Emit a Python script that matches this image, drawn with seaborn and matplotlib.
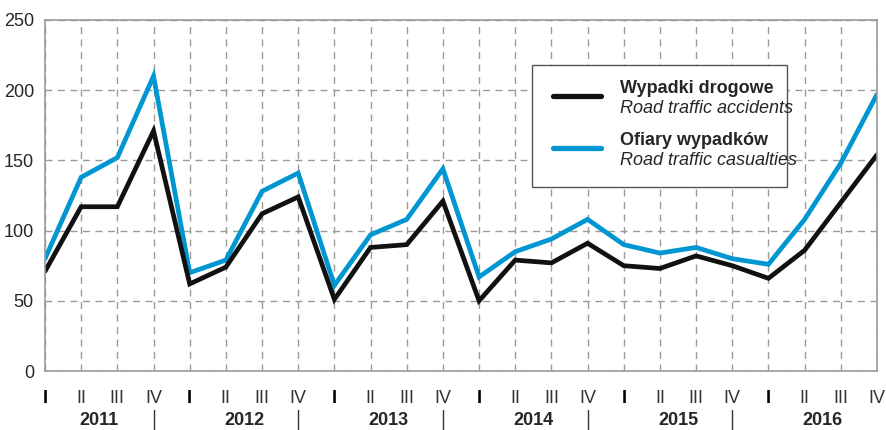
import pandas as pd
import matplotlib.pyplot as plt
import matplotlib.transforms as mtransforms
from matplotlib.patches import Rectangle
from matplotlib.lines import Line2D
import seaborn as sns

years = ['2011', '2012', '2013', '2014', '2015', '2016']
quarters = ['I', 'II', 'III', 'IV']
wypadki = [71, 117, 117, 171, 62, 74, 112, 124, 51, 88, 90, 121,
           50, 79, 77, 91, 75, 73, 82, 75, 66, 86, 120, 154]
ofiary = [80, 138, 152, 210, 70, 79, 128, 141, 61, 97, 108, 144,
          67, 85, 94, 108, 90, 84, 88, 80, 76, 108, 148, 197]

sns.set_style('white')
plt.rcParams['font.family'] = ['Liberation Sans', 'DejaVu Sans']

n = len(wypadki)
df = pd.DataFrame({
    'x': list(range(n)) * 2,
    'val': wypadki + ofiary,
    'seria': ['Wypadki drogowe'] * n + ['Ofiary wypadków'] * n,
})

fig = plt.figure(figsize=(8.86, 4.3), dpi=100)
ax = fig.add_axes([0.0508, 0.1372, 0.939, 0.8163])

sns.lineplot(data=df, x='x', y='val', hue='seria',
             palette={'Wypadki drogowe': '#111111', 'Ofiary wypadków': '#0096d2'},
             hue_order=['Ofiary wypadków', 'Wypadki drogowe'],
             linewidth=3.4, legend=False, ax=ax)
for ln in ax.get_lines():
    ln.set_solid_joinstyle('miter')

ax.set_xlim(0, n - 1)
ax.set_ylim(0, 250)
ax.set_yticks([0, 50, 100, 150, 200, 250])
ax.set_xticks(range(n))
ax.set_xticklabels(quarters * len(years))
for i, lab in enumerate(ax.get_xticklabels()):
    if i % 4 == 0:
        lab.set_color('black')
        lab.set_fontweight('bold')
    else:
        lab.set_color('#333333')
ax.tick_params(axis='x', length=0, pad=14, labelsize=13)
ax.tick_params(axis='y', length=0, pad=8, labelsize=13)
ax.set_xlabel('')
ax.set_ylabel('')

ax.grid(True, color='#9a9a9a', linestyle=(0, (5, 4)), linewidth=1)
for s in ax.spines.values():
    s.set_color('#9a9a9a')
    s.set_linewidth(1.2)

trans = mtransforms.blended_transform_factory(ax.transData, ax.transAxes)
for k, y in enumerate(years):
    ax.text(4 * k + 1.5, -0.14, y, transform=trans, ha='center', va='center',
            fontsize=13, fontweight='bold')
    if k < len(years) - 1:
        ax.add_line(Line2D([4 * k + 3, 4 * k + 3], [-0.112, -0.168], transform=trans,
                           color='#333333', linewidth=1, clip_on=False))

# legend box
ax.add_patch(Rectangle((0.585, 0.524), 0.307, 0.348, transform=ax.transAxes,
                       facecolor='white', edgecolor='#555555', linewidth=1, zorder=5))
for yl, yt, col, t1, t2 in [(0.783, 0.806, '#111111', 'Wypadki drogowe', 'Road traffic accidents'),
                            (0.635, 0.658, '#0096d2', 'Ofiary wypadków', 'Road traffic casualties')]:
    ax.add_line(Line2D([0.611, 0.668], [yl, yl], transform=ax.transAxes, color=col,
                       linewidth=3.8, zorder=6))
    ax.text(0.691, yt, t1, transform=ax.transAxes, fontsize=13, fontweight='bold',
            va='center', zorder=6)
    ax.text(0.691, yt - 0.057, t2, transform=ax.transAxes, fontsize=13, style='italic',
            va='center', zorder=6)

fig.savefig('out.png', dpi=100)
